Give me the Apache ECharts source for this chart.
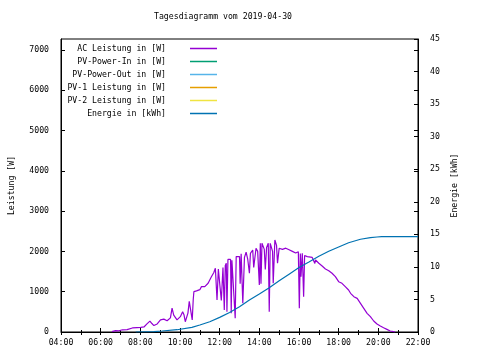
<!DOCTYPE html>
<html><head><meta charset="utf-8">
<script src="https://cdn.jsdelivr.net/npm/echarts@6/dist/echarts.min.js"></script>
<style>html,body{margin:0;padding:0;background:#fff}#c{width:480px;height:360px}</style>
</head><body><div id="c"></div>
<script>
const titleText = 'Tagesdiagramm vom 2019-04-30';
const seriesNames = ['AC Leistung in [W]','PV-Power-In in [W]','PV-Power-Out in [W]','PV-1 Leistung in [W]','PV-2 Leistung in [W]','Energie in [kWh]'];
const seriesColors = ['#9400D3','#009E73','#56B4E9','#E69F00','#F0E442','#0072B2'];
const xTickHours = [4,6,8,10,12,14,16,18,20,22];

const acTimes = ['06:34','06:45','06:55','07:06','07:20','07:36','07:50','08:01','08:11','08:20','08:29','08:35','08:41','08:51','09:01','09:11','09:21','09:31','09:36','09:41','09:51','10:01','10:08','10:12','10:16','10:24','10:28','10:34','10:37','10:40','10:42','10:50','11:00','11:05','11:15','11:25','11:35','11:42','11:47','11:52','11:56','12:05','12:10','12:14','12:17','12:20','12:22','12:25','12:33','12:35','12:37','12:40','12:47','12:50','13:00','13:02','13:05','13:10','13:15','13:20','13:25','13:30','13:33','13:40','13:43','13:50','13:55','14:00','14:03','14:05','14:08','14:15','14:18','14:22','14:27','14:30','14:33','14:40','14:42','14:47','14:52','14:55','15:00','15:10','15:20','15:30','15:40','15:50','15:58','16:01','16:04','16:06','16:10','16:14','16:17','16:25','16:40','16:48','16:50','17:00','17:10','17:20','17:30','17:40','17:50','18:00','18:10','18:20','18:30','18:36','18:46','18:56','19:06','19:16','19:26','19:36','19:46','19:56','20:06','20:16','20:26','20:36','20:46','20:51'];
const acWatts = [10,35,30,55,60,100,110,115,125,200,270,210,160,200,300,320,280,350,590,420,300,380,500,430,255,470,760,780,300,800,1000,1020,1050,1125,1125,1210,1370,1470,1580,795,1560,780,1600,545,1650,1705,500,1800,1800,465,1780,1787,340,1870,1870,1200,1940,712,1850,1980,1800,1457,1950,2035,1600,2077,2000,1166,2200,1200,2200,2050,1550,2100,2200,504,2200,2000,1209,2283,2150,1705,2077,2050,2080,2040,2000,1960,1990,588,1950,1372,1953,876,1900,1870,1850,1700,1787,1705,1638,1564,1522,1457,1374,1249,1208,1125,1042,960,876,835,712,588,464,380,273,199,149,107,66,25,8,0];

const pvInTimes = [], pvInWatts = [];
const pvOutTimes = [], pvOutWatts = [];
const pv1Times = [], pv1Watts = [];
const pv2Times = [], pv2Watts = [];

const energyTimes = ['07:46','08:41','09:06','09:51','10:36','11:00','11:30','12:00','12:30','13:00','13:30','14:00','14:30','15:00','15:30','16:00','16:30','17:00','17:30','18:00','18:30','19:06','19:36','19:56','20:10','22:00'];
const energyKWh = [0,0.05,0.15,0.35,0.72,1.07,1.58,2.25,3.0,3.88,4.9,5.82,6.78,7.86,8.88,9.9,10.76,11.63,12.4,13.06,13.7,14.24,14.5,14.59,14.65,14.65];

function toH(t){const p=t.split(':');return +p[0]+(+p[1])/60;}
function pairs(ts,vs){return ts.map((t,i)=>[toH(t),vs[i]]);}
function pad(v){return (v<10?'0':'')+v+':00';}

const FONT = 'DejaVu Sans Mono';
const FS = 8.2;
const dataSets = [pairs(acTimes,acWatts),pairs(pvInTimes,pvInWatts),pairs(pvOutTimes,pvOutWatts),pairs(pv1Times,pv1Watts),pairs(pv2Times,pv2Watts),pairs(energyTimes,energyKWh)];
const legendCenters = [49,62,75,88,101,114];

const chart = echarts.init(document.getElementById('c'), null, {renderer:'canvas'});
const xBase = {type:'value',min:4,max:22,interval:2,
  axisLine:{show:true,lineStyle:{color:'#000',width:1}},
  axisTick:{show:true,inside:true,length:4,lineStyle:{color:'#000'}},
  minorTick:{show:true,splitNumber:2,length:2,lineStyle:{color:'#000'}},
  splitLine:{show:false}};
chart.setOption({
  animation:false,
  backgroundColor:'#fff',
  title:{text:titleText,left:154,top:13,padding:0,textStyle:{fontFamily:FONT,fontSize:FS,fontWeight:'normal',color:'#000'}},
  legend: seriesNames.map((n,i)=>({data:[n],orient:'vertical',align:'right',right:263,top:legendCenters[i]-5.5,padding:0,
    icon:'rect',itemWidth:27,itemHeight:1.5,
    textStyle:{fontFamily:FONT,fontSize:FS,color:'#000',lineHeight:10,padding:[0,19,0,0]}})),
  grid:{left:58,right:62,top:39,bottom:28,show:true,borderColor:'#000',borderWidth:1,backgroundColor:'transparent'},
  xAxis:[
    Object.assign({},xBase,{position:'bottom',axisLabel:{show:true,margin:7,fontFamily:FONT,fontSize:FS,color:'#000',formatter:v=>pad(v)}}),
    Object.assign({},xBase,{position:'top',axisLine:{show:false},axisTick:{show:true,inside:true,length:3,lineStyle:{color:'#000'}},minorTick:{show:true,splitNumber:2,length:3,lineStyle:{color:'#000'}},axisLabel:{show:false}})
  ],
  yAxis:[
    {type:'value',position:'left',min:0,max:7270,interval:1000,
     name:'Leistung [W]',nameLocation:'middle',nameGap:45,nameRotate:90,nameTextStyle:{fontFamily:FONT,fontSize:FS,color:'#000'},
     axisLine:{show:true,lineStyle:{color:'#000'}},axisTick:{show:true,inside:true,length:4,lineStyle:{color:'#000'}},
     axisLabel:{margin:12,fontFamily:FONT,fontSize:FS,color:'#000',showMaxLabel:false,formatter:v=>(v%1000===0?String(v):'')},
     splitLine:{show:false}},
    {type:'value',position:'right',min:0,max:45,interval:5,
     name:'Energie [kWh]',nameLocation:'middle',nameGap:28,nameRotate:90,nameTextStyle:{fontFamily:FONT,fontSize:FS,color:'#000'},
     axisLine:{show:true,lineStyle:{color:'#000'}},axisTick:{show:true,inside:true,length:4,lineStyle:{color:'#000'}},
     axisLabel:{margin:12,fontFamily:FONT,fontSize:FS,color:'#000'},
     splitLine:{show:false}},
    {type:'value',position:'right',min:0,max:7270,interval:1000,
     axisLine:{show:false},axisTick:{show:true,inside:true,length:4,lineStyle:{color:'#000'}},
     axisLabel:{show:false},splitLine:{show:false}}
  ],
  series: seriesNames.map((n,i)=>({name:n,type:'line',xAxisIndex:0,yAxisIndex:i===5?1:0,data:dataSets[i],
    showSymbol:false,symbol:'none',color:seriesColors[i],lineStyle:{color:seriesColors[i],width:i===5?1.2:1.2},z:i===5?3:2}))
});
</script></body></html>
